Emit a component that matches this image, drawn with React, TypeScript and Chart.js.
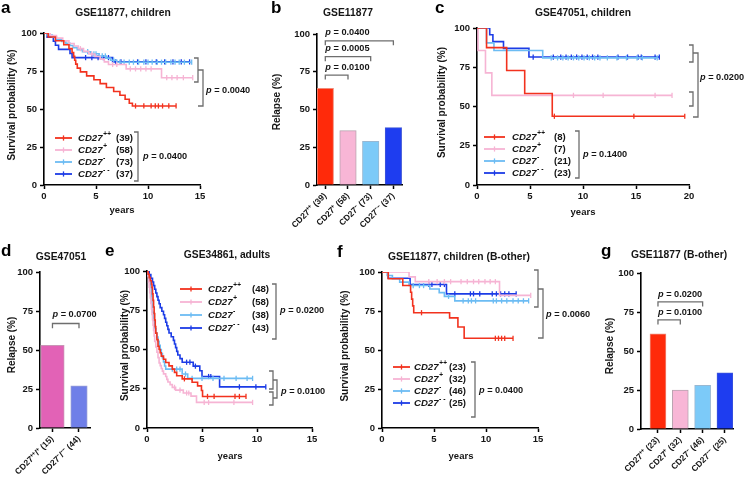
import { useEffect, useRef } from 'react';
import { Chart, registerables } from 'chart.js';

Chart.register(...registerables);

const W = 745;
const H = 480;
const FONT = '"Liberation Sans", Arial, Helvetica, sans-serif';
const INK = '#151515';
const BR = '#6e6e6e';
const YW = 30;

// ---------- shared tick labels / groups ----------
const survivalTicks = [0, 25, 50, 75, 100];
const yearTicks15 = [0, 5, 10, 15];
const yearTicks20 = [0, 5, 10, 15, 20];
const groupSup = ['++', '+', '-', '- -'];
const kmColors = ['#f2321e', '#f6b4d4', '#6cbcf3', '#1c3ce6'];

// ---------- a: GSE11877, children ----------
const aCounts = [39, 58, 73, 37];
const aPlusPlus = [[0, 100], [0.4, 97.4], [1.1, 94.9], [1.9, 92.3], [2.4, 89.7], [2.7, 87.2], [2.85, 84.6], [2.95, 82.1], [3.05, 79.5], [3.2, 76.9], [3.5, 74.4], [4.1, 71.8], [4.8, 69.2], [5.4, 66.7], [6.0, 64.1], [6.7, 61.5], [7.3, 59.0], [7.8, 56.4], [8.2, 53.8], [8.5, 52.0]];
const aPlusPlusCens = [8.8, 9.6, 10.3, 10.7, 11.0, 11.4, 12.0, 12.7];
const aPlus = [[0, 100], [0.6, 98.3], [1.2, 96.6], [1.8, 94.8], [2.4, 93.1], [2.9, 91.4], [3.3, 89.7], [3.8, 87.9], [4.3, 86.2], [4.9, 84.5], [5.4, 82.8], [5.8, 81.0], [6.2, 79.3], [7.9, 76.4], [11.3, 70.6]];
const aPlusCens = [3.5, 4.6, 6.6, 7.0, 8.3, 8.8, 9.3, 9.8, 10.3, 11.8, 12.3, 12.8, 13.4, 14.3];
const aMinus = [[0, 100], [0.3, 98.6], [0.8, 97.3], [1.2, 95.9], [1.7, 94.5], [2.1, 93.2], [2.5, 91.8], [2.8, 90.4], [3.2, 89.0], [3.7, 87.7], [4.5, 86.3], [5.3, 84.9], [6.0, 83.5], [6.4, 82.1], [7.0, 80.8]];
const aMinusCens = [4.2, 4.8, 5.0, 5.6, 5.9, 6.7, 7.3, 7.7, 8.2, 8.6, 9.1, 9.6, 10.0, 10.4, 10.9, 11.3, 11.7, 12.2, 12.6, 13.0, 13.5, 14.2];
const aMinusMinus = [[0, 100], [0.3, 97.3], [0.9, 94.6], [1.1, 91.9], [1.4, 89.2], [2.5, 86.5], [2.7, 83.8], [6.6, 81.0]];
const aMinusMinusCens = [4.0, 4.6, 5.2, 5.7, 6.2, 6.9, 7.4, 9.0, 9.8, 10.8, 11.6, 12.4, 13.2, 14.0];

// ---------- b: GSE11877 relapse ----------
const bValues = [64, 36, 29, 38];
const bLabels = ['CD27⁺⁺ (39)', 'CD27⁺ (58)', 'CD27⁻ (73)', 'CD27⁻⁻ (37)'];
const bBrackets = [{ from: 0, to: 3, y: 95.5, p: '0.0400' }, { from: 0, to: 2, y: 85, p: '0.0005' }, { from: 0, to: 1, y: 72.8, p: '0.0100' }];

// ---------- c: GSE47051, children ----------
const cCounts = [8, 7, 21, 23];
const cPlusPlus = [[0, 100], [0.9, 87.5], [2.8, 72.9], [4.5, 58.3], [7.1, 43.8]];
const cPlusPlusCens = [7.3, 14.8, 19.6];
const cPlus = [[0, 100], [0.1, 85.7], [0.8, 71.4], [1.4, 57.1]];
const cPlusCens = [9.1, 11.9, 16.8, 18.4];
const cMinus = [[0, 100], [0.9, 90.5], [1.6, 85.7], [6.2, 81.0]];
const cMinusCens = [7.0, 7.6, 8.1, 8.6, 9.1, 9.6, 10.1, 10.6, 11.1, 11.6, 12.3, 13.2, 14.1, 15.1, 15.6, 17.0];
const cMinusMinus = [[0, 100], [1.2, 95.7], [1.5, 91.3], [2.5, 87.0], [4.9, 81.5]];
const cMinusMinusCens = [5.3, 7.2, 7.9, 8.4, 8.9, 9.4, 9.9, 10.4, 10.9, 11.4, 13.3, 14.2, 15.2, 15.5, 16.8, 17.2];

// ---------- d: GSE47051 relapse ----------
const dValues = [53, 27];
const dLabels = ['CD27⁺⁺/⁺ (15)', 'CD27⁻/⁻⁻ (44)'];
const dBrackets = [{ from: 0, to: 1, y: 67, p: '0.0700' }];

// ---------- e: GSE34861, adults ----------
const eCounts = [48, 58, 38, 43];
const ePlusPlus = [[0, 100], [0.1, 97.9], [0.2, 95.8], [0.3, 93.8], [0.4, 91.7], [0.45, 89.6], [0.5, 85.4], [0.55, 81.3], [0.6, 77.1], [0.65, 72.9], [0.7, 68.8], [0.75, 64.6], [0.8, 60.4], [0.9, 56.3], [1.0, 52.1], [1.1, 50.0], [1.2, 47.9], [1.3, 45.8], [1.5, 43.8], [1.7, 41.7], [2.0, 39.6], [2.3, 37.5], [2.5, 35.4], [2.7, 33.3], [3.2, 31.3], [4.1, 29.1], [4.6, 26.8], [4.95, 23.9], [5.05, 20.1]];
const ePlusPlusCens = [3.4, 5.5, 6.1, 8.0, 8.4, 9.0];
const ePlus = [[0, 100], [0.1, 96.6], [0.15, 93.1], [0.2, 89.7], [0.25, 86.2], [0.3, 82.8], [0.35, 79.3], [0.4, 75.9], [0.45, 72.4], [0.5, 69.0], [0.55, 65.5], [0.6, 62.1], [0.65, 58.6], [0.7, 55.2], [0.8, 51.7], [0.9, 48.3], [1.0, 44.8], [1.1, 41.4], [1.2, 39.7], [1.3, 37.9], [1.4, 36.2], [1.5, 34.5], [1.7, 32.8], [1.8, 31.0], [1.9, 29.3], [2.1, 27.6], [2.3, 25.9], [2.6, 24.1], [3.3, 22.3], [4.0, 20.3], [4.5, 16.3]];
const ePlusCens = [2.5, 3.0, 3.6, 3.8, 5.2, 5.6, 7.9, 9.6];
const eMinus = [[0, 100], [0.1, 97.4], [0.2, 94.7], [0.3, 89.5], [0.4, 84.2], [0.45, 78.9], [0.5, 73.7], [0.6, 68.4], [0.7, 63.2], [0.8, 60.5], [0.9, 57.9], [1.0, 55.3], [1.1, 52.6], [1.2, 50.0], [1.3, 47.4], [1.4, 44.7], [1.5, 42.1], [1.6, 39.5], [1.7, 37.5], [3.2, 34.4], [3.7, 31.6]];
const eMinusCens = [2.3, 2.7, 3.0, 3.5, 4.1, 5.0, 6.0, 7.0, 8.1, 9.1, 9.6];
const eMinusMinus = [[0, 100], [0.2, 97.7], [0.35, 95.3], [0.5, 93.0], [0.6, 90.7], [0.7, 88.4], [0.8, 86.0], [0.9, 83.7], [1.0, 81.4], [1.1, 79.1], [1.2, 76.7], [1.35, 74.4], [1.5, 72.1], [1.6, 69.8], [1.7, 67.4], [1.8, 65.1], [1.9, 62.8], [2.0, 60.5], [2.2, 58.1], [2.4, 55.8], [2.5, 53.5], [2.6, 51.2], [2.7, 48.8], [2.8, 46.5], [3.0, 44.2], [3.2, 41.9], [4.2, 39.4], [4.8, 36.5], [5.0, 32.8], [6.6, 26.2]];
const eMinusMinusCens = [3.6, 3.9, 4.4, 5.6, 5.8, 8.4, 9.9, 10.8];

// ---------- f: GSE11877, children (B-other) ----------
const fCounts = [23, 32, 46, 25];
const fPlusPlus = [[0, 100], [0.6, 95.7], [2.0, 91.3], [2.75, 87.0], [2.85, 82.6], [2.95, 78.3], [3.05, 73.9], [6.5, 70.6], [7.3, 64.7], [7.9, 57.5]];
const fPlusPlusCens = [3.8, 10.9, 11.2, 11.5, 11.8, 12.6];
const fPlus = [[0, 100], [2.6, 96.9], [3.2, 93.8], [11.3, 85.0]];
const fPlusCens = [4.5, 5.3, 6.0, 6.6, 7.6, 8.2, 8.8, 9.3, 9.9, 10.4, 10.9, 14.3];
const fMinus = [[0, 100], [0.5, 97.8], [1.0, 95.7], [1.7, 93.5], [2.6, 91.3], [4.6, 89.1], [5.5, 86.8], [6.0, 84.4], [7.0, 81.5]];
const fMinusCens = [3.0, 3.6, 4.0, 6.4, 7.8, 8.3, 8.6, 9.0, 10.7, 11.0, 11.5, 12.0, 12.6, 13.1, 13.6, 14.1];
const fMinusMinus = [[0, 100], [0.6, 96.0], [2.7, 92.0], [6.2, 86.0]];
const fMinusMinusCens = [4.5, 4.8, 5.6, 6.0, 7.0, 8.5, 8.8, 9.4, 10.6, 11.0, 11.4, 11.8, 12.2, 12.9];

// ---------- g: GSE11877 (B-other) relapse ----------
const gValues = [61, 25, 28, 36];
const gLabels = ['CD27⁺⁺ (23)', 'CD27⁺ (32)', 'CD27⁻ (46)', 'CD27⁻⁻ (25)'];
const gBrackets = [{ from: 0, to: 2, y: 81.5, p: '0.0200' }, { from: 0, to: 1, y: 70, p: '0.0100' }];

const barFills = ['#ff2a0a', '#f8b6d6', '#7ccaf8', '#1e3df0'];
const barEdges = ['#f08a78', '#b9a4b0', '#98b8d2', '#3f57d8'];
const dFills = ['#e262b6', '#6f7fe8'];
const dEdges = ['#c995b6', '#9aa0d6'];

// ---------- helpers ----------
function kmPoints(events: any[], censors: number[]) {
  const pts: any[] = events.map(([x, y]) => ({ x, y, c: false }));
  for (const t of censors) {
    let y = 100;
    for (const [ex, ey] of events) if (ex <= t) y = ey;
    pts.push({ x: t, y, c: true });
  }
  pts.sort((p, q) => p.x - q.x);
  return pts;
}

function setFont(ctx: any, size: number, italic = false) {
  ctx.font = `${italic ? 'italic ' : ''}bold ${size}px ${FONT}`;
}
function txt(ctx: any, s: string, x: number, y: number, size: number, align = 'left', italic = false) {
  ctx.save();
  setFont(ctx, size, italic);
  ctx.fillStyle = INK;
  ctx.textAlign = align;
  ctx.textBaseline = 'middle';
  ctx.fillText(s, x, y);
  ctx.restore();
}
function vtxt(ctx: any, s: string, x: number, y: number, size: number) {
  ctx.save();
  ctx.translate(x, y);
  ctx.rotate(-Math.PI / 2);
  setFont(ctx, size);
  ctx.fillStyle = INK;
  ctx.textAlign = 'center';
  ctx.textBaseline = 'middle';
  ctx.fillText(s, 0, 0);
  ctx.restore();
}
function letter(ctx: any, ch: string, x: number, y: number) {
  ctx.save();
  ctx.font = `bold 17px ${FONT}`;
  ctx.fillStyle = '#000';
  ctx.textAlign = 'left';
  ctx.textBaseline = 'alphabetic';
  ctx.fillText(ch, x, y);
  ctx.restore();
}
function pText(ctx: any, v: string, x: number, y: number, size = 9.2) {
  ctx.save();
  ctx.fillStyle = INK;
  ctx.textBaseline = 'middle';
  ctx.textAlign = 'left';
  setFont(ctx, size, true);
  ctx.fillText('p', x, y);
  const w = ctx.measureText('p').width;
  setFont(ctx, size);
  ctx.fillText(' = ' + v, x + w, y);
  ctx.restore();
}
function rBracket(ctx: any, x: number, y1: number, y2: number, arm: number) {
  ctx.save();
  ctx.strokeStyle = BR;
  ctx.lineWidth = 1.3;
  ctx.beginPath();
  ctx.moveTo(x - arm, y1);
  ctx.lineTo(x, y1);
  ctx.lineTo(x, y2);
  ctx.lineTo(x - arm, y2);
  ctx.stroke();
  ctx.restore();
}
function dBracket(ctx: any, x1: number, x2: number, y: number, drop: number) {
  ctx.save();
  ctx.strokeStyle = BR;
  ctx.lineWidth = 1.3;
  ctx.beginPath();
  ctx.moveTo(x1, y + drop);
  ctx.lineTo(x1, y);
  ctx.lineTo(x2, y);
  ctx.lineTo(x2, y + drop);
  ctx.stroke();
  ctx.restore();
}

function axisOptions(area: any, xh: number, xMin: number, xMax: number, xTicks: number[], xLabels: string[] | null, rotate: number, xFontSize: number) {
  const tickFont = { family: FONT, weight: 'bold', size: 9.5 };
  const grid = { display: true, drawOnChartArea: false, drawTicks: true, tickLength: 4, tickWidth: 1.5, tickColor: '#000', offset: false };
  const border = { display: true, color: '#000', width: 1.6 };
  return {
    responsive: false,
    animation: false,
    events: [],
    devicePixelRatio: 1,
    layout: { padding: { left: area.L - YW, top: area.T, right: W - area.R, bottom: H - area.B - xh } },
    plugins: { legend: { display: false }, tooltip: { enabled: false }, title: { display: false } },
    scales: {
      x: {
        type: 'linear',
        offset: false,
        min: xMin,
        max: xMax,
        afterBuildTicks: (s: any) => { s.ticks = xTicks.map((v) => ({ value: v })); },
        afterFit: (s: any) => { s.height = xh; s.paddingLeft = 0; s.paddingRight = 0; },
        ticks: {
          autoSkip: false,
          maxRotation: rotate,
          minRotation: rotate,
          padding: 2,
          color: INK,
          font: { family: FONT, weight: 'bold', size: xFontSize },
          callback: (v: any) => (xLabels ? xLabels[v] : String(v)),
        },
        grid,
        border,
      },
      y: {
        type: 'linear',
        min: 0,
        max: 100,
        afterBuildTicks: (s: any) => { s.ticks = survivalTicks.map((v) => ({ value: v })); },
        afterFit: (s: any) => { s.width = YW; s.paddingTop = 0; s.paddingBottom = 0; },
        ticks: { padding: 3, color: INK, font: tickFont },
        grid,
        border,
      },
    },
  };
}

function decorPlugin(draw: (ctx: any, chart: any) => void) {
  return {
    id: 'decor',
    afterDraw: (chart: any) => {
      const ctx = chart.ctx;
      ctx.save();
      draw(ctx, chart);
      ctx.restore();
    },
  };
}

function kmChart(spec: any) {
  const { area, legend: lg } = spec;
  return {
    type: 'line',
    data: {
      datasets: spec.series.map(([ev, ce]: any, i: number) => ({
        data: kmPoints(ev, ce),
        borderColor: kmColors[i],
        backgroundColor: kmColors[i],
        borderWidth: 1.6,
        stepped: 'before',
        fill: false,
        tension: 0,
        pointStyle: 'line',
        pointRotation: 90,
        pointRadius: (c: any) => (c.raw && c.raw.c ? 2.6 : 0),
        pointHoverRadius: 0,
        pointBorderWidth: 1.3,
        pointBorderColor: kmColors[i],
      })),
    },
    options: axisOptions(area, 20, 0, spec.xMax, spec.xTicks, null, 0, 9.5),
    plugins: [
      decorPlugin((ctx) => {
        letter(ctx, spec.letter[0], spec.letter[1], spec.letter[2]);
        txt(ctx, spec.title[0], spec.title[1], spec.title[2], 10.3, 'center');
        vtxt(ctx, 'Survival probability (%)', spec.yTitleX, (area.T + area.B) / 2 - 4, 10);
        txt(ctx, 'years', spec.xTitle[0], spec.xTitle[1], 9.5, 'center');
        lg.rows.forEach((y: number, i: number) => {
          ctx.save();
          ctx.strokeStyle = kmColors[i];
          ctx.lineWidth = 1.8;
          ctx.beginPath();
          ctx.moveTo(lg.x0, y);
          ctx.lineTo(lg.x1, y);
          ctx.stroke();
          const m = (lg.x0 + lg.x1) / 2;
          ctx.lineWidth = 1.3;
          ctx.beginPath();
          ctx.moveTo(m, y - 2.6);
          ctx.lineTo(m, y + 2.6);
          ctx.stroke();
          ctx.restore();
          txt(ctx, 'CD27', lg.tx, y, 9.6, 'left', true);
          ctx.save();
          setFont(ctx, 9.6, true);
          const w = ctx.measureText('CD27').width;
          ctx.restore();
          txt(ctx, groupSup[i], lg.tx + w + 0.5, y - 4, 6.8, 'left', true);
          txt(ctx, `(${spec.counts[i]})`, lg.cx, y, 9.6);
        });
        rBracket(ctx, lg.bx, lg.by1, lg.by2, 4);
        pText(ctx, lg.p, lg.px, lg.py);
        spec.brackets.forEach((b: any) => rBracket(ctx, b.x, b.y1, b.y2, b.arm));
        pText(ctx, spec.note.p, spec.note.x, spec.note.y);
      }),
    ],
  };
}

function barChart(spec: any) {
  const { area } = spec;
  const idx = spec.values.map((_: any, i: number) => i);
  return {
    type: 'bar',
    data: {
      datasets: spec.values.map((v: number, i: number) => ({
        data: [{ x: i, y: v }],
        backgroundColor: spec.fills[i],
        borderColor: spec.edges[i],
        borderWidth: 1,
        barThickness: spec.thickness[i],
        grouped: false,
      })),
    },
    options: axisOptions(area, 60, spec.xMin, spec.xMax, idx, spec.labels, 45, 8.5),
    plugins: [
      decorPlugin((ctx, chart) => {
        const xs = chart.scales.x;
        const ys = chart.scales.y;
        letter(ctx, spec.letter[0], spec.letter[1], spec.letter[2]);
        txt(ctx, spec.title[0], spec.title[1], spec.title[2], 10.3, 'center');
        vtxt(ctx, 'Relapse (%)', spec.yTitle[0], spec.yTitle[1], 10);
        spec.brackets.forEach((b: any) => {
          const x1 = xs.getPixelForValue(b.from);
          const x2 = xs.getPixelForValue(b.to);
          const y = ys.getPixelForValue(b.y);
          const drop = ys.getPixelForValue(b.y - 3) - y;
          dBracket(ctx, x1, x2, y, drop);
          pText(ctx, b.p, x1, ys.getPixelForValue(b.y + spec.pGap));
        });
      }),
    ],
  };
}

// ---------- panels ----------
const panels = [
  () => kmChart({
    area: { L: 44, T: 33, R: 200, B: 185 },
    xMax: 15,
    xTicks: yearTicks15,
    series: [[aPlusPlus, aPlusPlusCens], [aPlus, aPlusCens], [aMinus, aMinusCens], [aMinusMinus, aMinusMinusCens]],
    counts: aCounts,
    letter: ['a', 1, 13],
    title: ['GSE11877, children', 123, 13.5],
    yTitleX: 12,
    xTitle: [122, 210],
    legend: { x0: 55, x1: 72, tx: 78, cx: 116, rows: [138, 150, 162, 174], bx: 138, by1: 132, by2: 181, px: 143, py: 156, p: '0.0400' },
    brackets: [{ x: 198, y1: 58, y2: 82, arm: 4 }, { x: 203, y1: 70, y2: 106, arm: 5 }],
    note: { x: 206, y: 90, p: '0.0040' },
  }),
  () => barChart({
    area: { L: 317, T: 34, R: 402, B: 185 },
    xMin: -0.366, xMax: 3.38,
    values: bValues, labels: bLabels, fills: barFills, edges: barEdges, thickness: [16.5, 16.5, 16.5, 16.5],
    letter: ['b', 271, 13],
    title: ['GSE11877', 348, 13.5],
    yTitle: [277, 102],
    brackets: bBrackets,
    pGap: 5.3,
  }),
  () => kmChart({
    area: { L: 477, T: 28, R: 689, B: 185 },
    xMax: 20,
    xTicks: yearTicks20,
    series: [[cPlusPlus, cPlusPlusCens], [cPlus, cPlusCens], [cMinus, cMinusCens], [cMinusMinus, cMinusMinusCens]],
    counts: cCounts,
    letter: ['c', 435, 13],
    title: ['GSE47051, children', 583, 13],
    yTitleX: 442,
    xTitle: [583, 212],
    legend: { x0: 484, x1: 505, tx: 512, cx: 554, rows: [137, 149, 161, 173], bx: 579, by1: 131, by2: 178, px: 583, py: 154, p: '0.1400' },
    brackets: [{ x: 693, y1: 45, y2: 62, arm: 4 }, { x: 693, y1: 92, y2: 106, arm: 4 }, { x: 698, y1: 53, y2: 117, arm: 5 }],
    note: { x: 700, y: 77, p: '0.0200' },
  }),
  () => barChart({
    area: { L: 40, T: 272, R: 90, B: 428 },
    xMin: -0.47, xMax: 1.415,
    values: dValues, labels: dLabels, fills: dFills, edges: dEdges, thickness: [23.5, 16.5],
    letter: ['d', 1, 256],
    title: ['GSE47051', 61, 257],
    yTitle: [12, 345],
    brackets: dBrackets,
    pGap: 5.8,
  }),
  () => kmChart({
    area: { L: 147, T: 271, R: 312, B: 428 },
    xMax: 15,
    xTicks: yearTicks15,
    series: [[ePlusPlus, ePlusPlusCens], [ePlus, ePlusCens], [eMinus, eMinusCens], [eMinusMinus, eMinusMinusCens]],
    counts: eCounts,
    letter: ['e', 105, 256],
    title: ['GSE34861, adults', 227, 255],
    yTitleX: 125,
    xTitle: [230, 456],
    legend: { x0: 180, x1: 202, tx: 208, cx: 252, rows: [289, 302, 315, 328], bx: 276, by1: 284, by2: 339, px: 280, py: 310, p: '0.0200' },
    brackets: [{ x: 273, y1: 371, y2: 389, arm: 4 }, { x: 273, y1: 392, y2: 405, arm: 4 }, { x: 277, y1: 380, y2: 398, arm: 4 }],
    note: { x: 281, y: 391, p: '0.0100' },
  }),
  () => kmChart({
    area: { L: 382, T: 272, R: 538, B: 428 },
    xMax: 15,
    xTicks: yearTicks15,
    series: [[fPlusPlus, fPlusPlusCens], [fPlus, fPlusCens], [fMinus, fMinusCens], [fMinusMinus, fMinusMinusCens]],
    counts: fCounts,
    letter: ['f', 337, 257],
    title: ['GSE11877, children (B-other)', 459, 257],
    yTitleX: 345,
    xTitle: [461, 456],
    legend: { x0: 393, x1: 410, tx: 414, cx: 449, rows: [367, 379, 391, 403], bx: 475, by1: 362, by2: 417, px: 479, py: 390, p: '0.0400' },
    brackets: [{ x: 538, y1: 270, y2: 307, arm: 4 }, { x: 543, y1: 289, y2: 338, arm: 5 }],
    note: { x: 546, y: 314, p: '0.0060' },
  }),
  () => barChart({
    area: { L: 641, T: 273, R: 733, B: 429 },
    xMin: -0.76, xMax: 3.36,
    values: gValues, labels: gLabels, fills: barFills, edges: barEdges, thickness: [16, 16, 16, 16],
    letter: ['g', 601, 256],
    title: ['GSE11877 (B-other)', 679, 255],
    yTitle: [610, 346],
    brackets: gBrackets,
    pGap: 4.6,
  }),
];

function ChartCanvas({ make }: { make: () => any }) {
  const ref = useRef<HTMLCanvasElement>(null);
  useEffect(() => {
    const chart = new Chart(ref.current as HTMLCanvasElement, make());
    return () => chart.destroy();
  }, [make]);
  return (
    <canvas
      ref={ref}
      width={W}
      height={H}
      style={{ position: 'absolute', left: 0, top: 0, width: W, height: H }}
    />
  );
}

export default function App() {
  return (
    <div style={{ position: 'absolute', left: 0, top: 0, width: W, height: H, background: '#fff', overflow: 'hidden' }}>
      {panels.map((make, i) => (
        <ChartCanvas key={i} make={make} />
      ))}
    </div>
  );
}
